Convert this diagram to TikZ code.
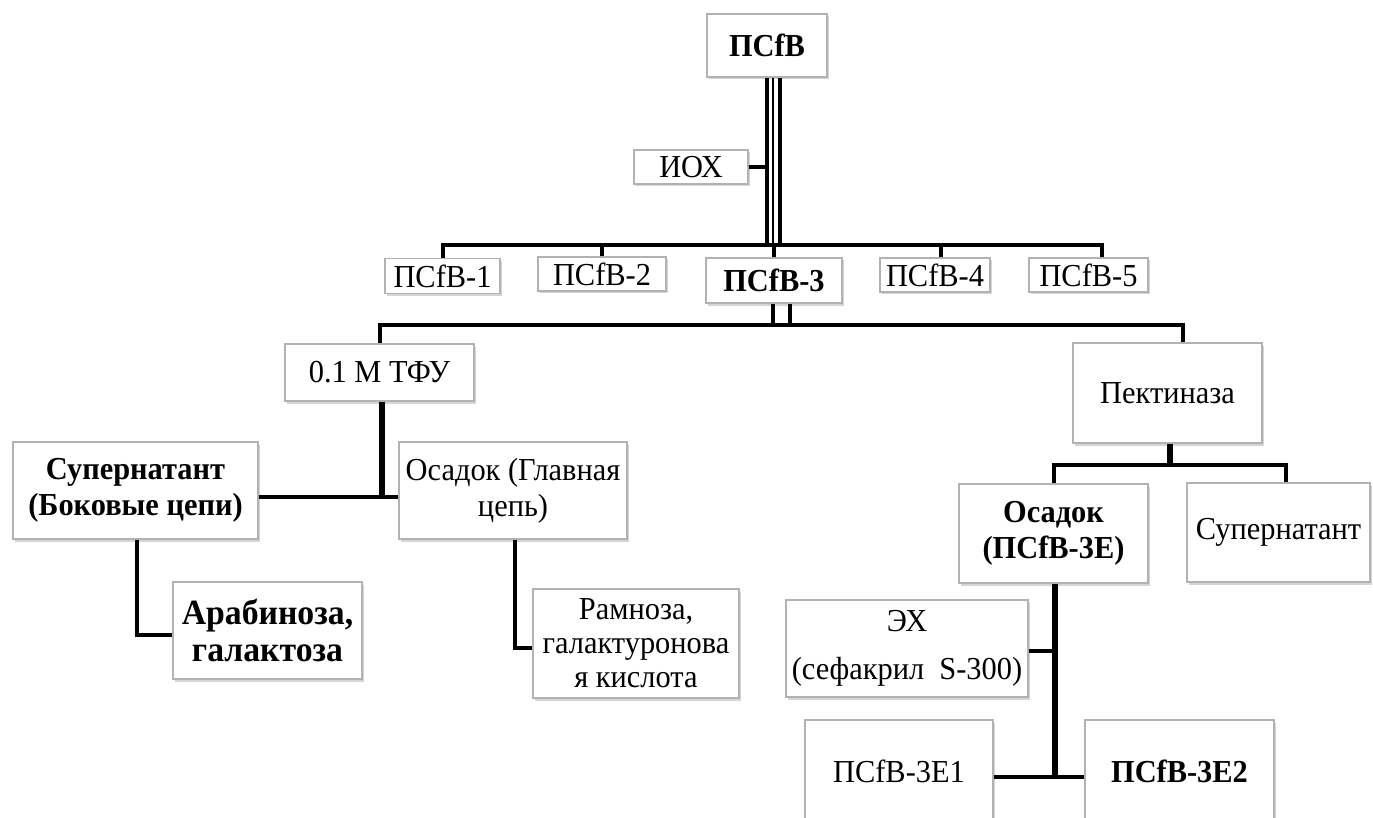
\documentclass[tikz,border=0pt]{standalone}
\usepackage{fontspec}
\setmainfont{Liberation Serif}[FakeStretch=0.95]
\usetikzlibrary{shadows,calc}
\begin{document}
\begin{tikzpicture}[x=1pt,y=-1pt,
  box/.style={draw=gray!60, line width=1.2pt, fill=white, inner sep=0pt, align=center,
    font=\fontsize{32}{36}\selectfont,
    drop shadow={shadow xshift=2pt, shadow yshift=-2.5pt, fill=gray!55, opacity=0.6}},
  bbox/.style={box, font=\fontsize{32}{36}\selectfont\bfseries},
  conn/.style={draw=black, line width=4pt},
  thk/.style={draw=black, line width=5.5pt},
]
\fill[white] (0,0) rectangle (1373,818);
\useasboundingbox (0,0) rectangle (1373,818);

% nodes
\node[bbox, minimum width=120pt, minimum height=63pt] (top) at (767,45.5) {ПСfВ};
\node[box, minimum width=114pt, minimum height=34pt] (iox) at (691,167) {ИОХ};
\node[box, minimum width=115pt, minimum height=35pt] (p1) at (442.5,276) {ПСfВ-1};
\node[box, minimum width=128pt, minimum height=34pt] (p2) at (602,274) {ПСfВ-2};
\node[bbox, minimum width=136pt, minimum height=45pt] (p3) at (774,280.5) {ПСfВ-3};
\node[box, minimum width=110pt, minimum height=34pt] (p4) at (935,275) {ПСfВ-4};
\node[box, minimum width=119pt, minimum height=34pt] (p5) at (1088.5,275) {ПСfВ-5};
\node[box, minimum width=189pt, minimum height=57pt] (tfu) at (379.5,372.5) {0.1 М ТФУ};
\node[box, minimum width=189pt, minimum height=100pt] (pekt) at (1167.5,393) {Пектиназа};
\node[bbox, minimum width=245pt, minimum height=97pt] (supL) at (135.5,490.5) {Супернатант\\(Боковые цепи)};
\node[box, minimum width=228pt, minimum height=97pt] (osL) at (513,490.5) {Осадок (Главная\\цепь)};
\node[bbox, minimum width=189pt, minimum height=97pt, font=\fontsize{35.5}{37}\selectfont\bfseries] (arab) at (267.5,630.5) {Арабиноза,\\галактоза};
\node[box, minimum width=206pt, minimum height=109pt, font=\fontsize{32}{34}\selectfont] (ramn) at (636,643.5) {Рамноза,\\галактуронова\\я кислота};
\node[bbox, minimum width=189pt, minimum height=99pt] (osR) at (1053.5,533.5) {Осадок\\(ПСfВ-3Е)};
\node[box, minimum width=183pt, minimum height=99pt] (supR) at (1278.5,532.5) {Супернатант};
\node[box, minimum width=242pt, minimum height=97pt] (ex) at (907,648.5) {ЭХ\\[12pt](сефакрил\ \ S-300)};
\node[box, minimum width=188pt, minimum height=102pt] (e1) at (899,771) {ПСfВ-3Е1};
\node[bbox, minimum width=189pt, minimum height=102pt] (e2) at (1179.5,771) {ПСfВ-3Е2};

% bus levels
\coordinate (b1) at (0,245);
\coordinate (b2) at (0,325);
\coordinate (b3) at (0,465);

% top -> level 1
\draw[line width=4.5pt] (top.south) -- (top.south |- b1);
\draw[line width=2pt] ([xshift=5.5pt]top.south) -- ([xshift=5.5pt]top.south |- b1);
\draw[line width=3.5pt] ([xshift=13pt]top.south) -- ([xshift=13pt]top.south |- b1);
\draw[conn] (iox.east) -- (iox.east -| top.south);

\coordinate (d5) at ([xshift=13.5pt]p5.north);
\coordinate (d4) at ([xshift=6pt]p4.north);
\draw[conn] (p1.north) |- (d5 |- b1) -- (d5);
\draw[conn] (p2.north) -- (p2.north |- b1);
\draw[conn] (p3.north) -- (p3.north |- b1);
\draw[conn] (d4) -- (d4 |- b1);

% p3 -> level 2
\coordinate (s1) at ([xshift=-1pt]p3.south);
\coordinate (s2) at ([xshift=16pt]p3.south);
\draw[line width=3.5pt] (s1) -- (s1 |- b2);
\draw[line width=3.5pt] (s2) -- (s2 |- b2);
\coordinate (dp) at ([xshift=15.5pt]pekt.north);
\draw[conn] (tfu.north) |- (dp |- b2) -- (dp);

% TFU branch
\coordinate (t1) at ([xshift=2.5pt]tfu.south);
\coordinate (j1) at ([yshift=-6.5pt]supL.east);
\draw[line width=6.5pt] (t1) -- (t1 |- j1);
\draw[conn] (j1) -- ([yshift=-6.5pt]osL.west);
\draw[conn] ([xshift=1.5pt]supL.south) |- ([yshift=-4.5pt]arab.west);
\draw[conn] ([xshift=2pt]osL.south) |- ([yshift=-4.5pt]ramn.west);

% pectinase branch
\coordinate (t2) at ([xshift=2.5pt]pekt.south);
\draw[line width=6.5pt] (t2) -- (t2 |- b3);
\coordinate (ds) at ([xshift=7.5pt]supR.north);
\draw[conn] (osR.north) |- (ds |- b3) -- (ds);

% osadok -> EX, E1, E2
\coordinate (v) at ([xshift=1.5pt]osR.south);
\coordinate (j3) at ([yshift=-6pt]e1.east);
\draw[thk] (v) -- (v |- j3);
\draw[conn] (j3) -- ([yshift=-6pt]e2.west);
\coordinate (j2) at ([yshift=-2.5pt]ex.east);
\draw[conn] (j2) -- (j2 -| v);
\end{tikzpicture}
\end{document}
